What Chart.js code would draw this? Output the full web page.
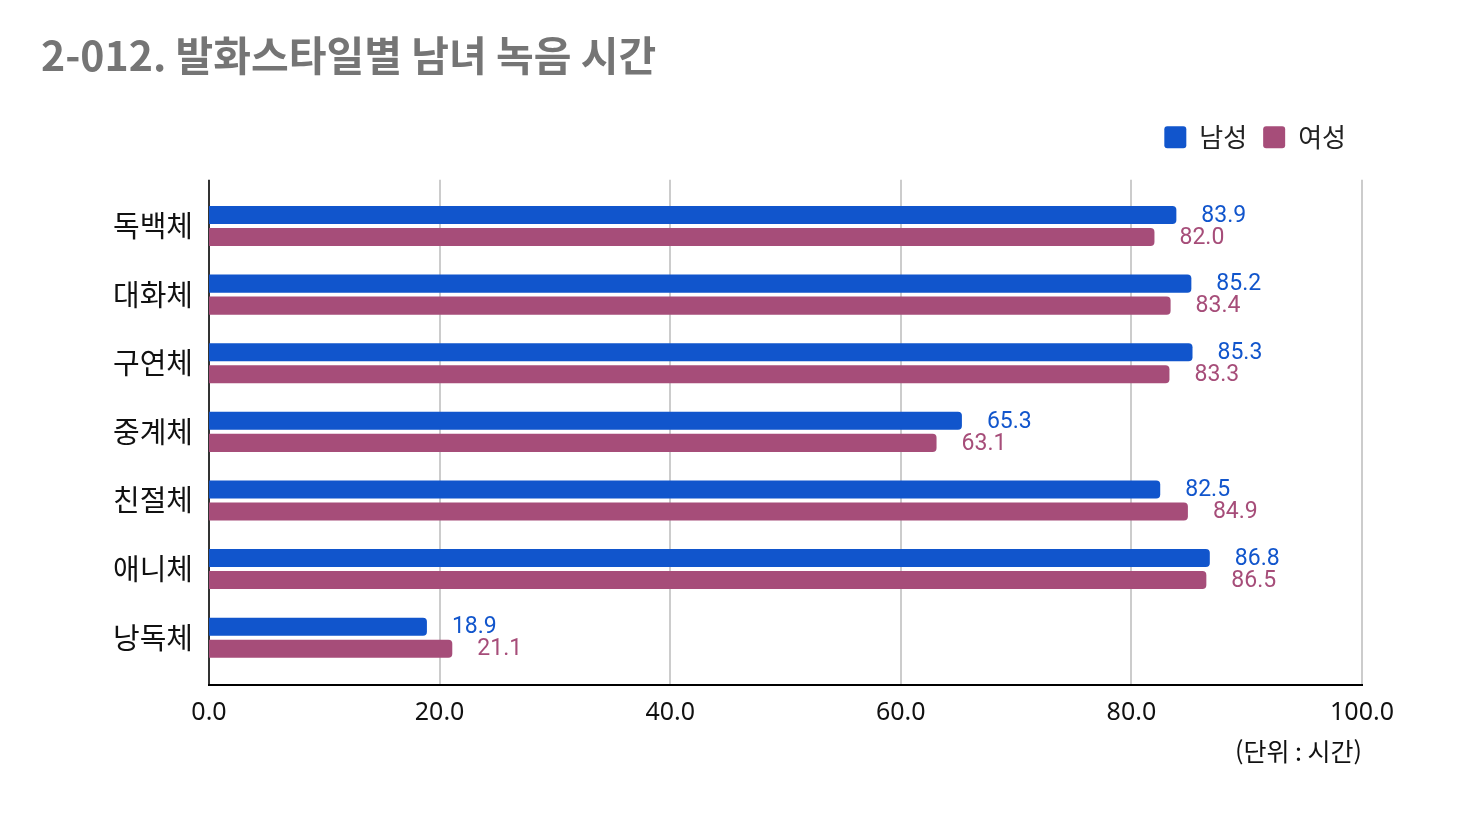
<!DOCTYPE html>
<html lang="ko">
<head>
<meta charset="utf-8">
<title>2-012. 발화스타일별 남녀 녹음 시간</title>
<script src="https://cdn.jsdelivr.net/npm/chart.js@4.4.1/dist/chart.umd.min.js"></script>
<style>
  html, body { margin: 0; padding: 0; background: #fff; }
  #chart { display: block; }
</style>
</head>
<body>
<canvas id="chart" width="1478" height="818"></canvas>
<script>
/*
   DATA
 */
const categories = ['독백체', '대화체', '구연체', '중계체', '친절체', '애니체', '낭독체'];
const maleHours   = [83.9, 85.2, 85.3, 65.3, 82.5, 86.8, 18.9];
const femaleHours = [82.0, 83.4, 83.3, 63.1, 84.9, 86.5, 21.1];
const seriesNames = ['남성', '여성'];
const xMin = 0, xMax = 100, xStep = 20;

const BLUE = '#1155cc';
const PINK = '#a64d79';
const KR = "'Noto Sans CJK KR', 'Noto Sans', sans-serif";

/*
   PLUGINS
 */
// grid lines + axis lines run a little past the plot area, like Sheets
const sheetGrid = {
    id: 'sheetGrid',
    beforeDatasetsDraw(chart) {
        const { ctx, chartArea: a, scales: { x } } = chart;
        const top = a.top - 12, bottom = a.bottom + 13;
        ctx.save();
        ctx.lineWidth = 2;
        ctx.strokeStyle = '#cccccc';
        x.ticks.forEach((t, i) => {
            if (i === 0) return;
            const px = Math.round(x.getPixelForTick(i));
            ctx.beginPath();
            ctx.moveTo(px, top);
            ctx.lineTo(px, bottom);
            ctx.stroke();
        });
        // left axis
        ctx.strokeStyle = '#333333';
        ctx.beginPath();
        ctx.moveTo(a.left, top);
        ctx.lineTo(a.left, bottom);
        ctx.stroke();
        // bottom axis
        ctx.strokeStyle = '#000000';
        ctx.beginPath();
        ctx.moveTo(a.left - 1, bottom);
        ctx.lineTo(a.right + 1, bottom);
        ctx.stroke();
        ctx.restore();
    }
};

// value labels at the end of each bar
const barValues = {
    id: 'barValues',
    afterDatasetsDraw(chart) {
        const { ctx } = chart;
        ctx.save();
        ctx.font = "23px Roboto, 'Noto Sans', sans-serif";
        ctx.textAlign = 'left';
        ctx.textBaseline = 'middle';
        chart.data.datasets.forEach((ds, di) => {
            const meta = chart.getDatasetMeta(di);
            ctx.fillStyle = ds.backgroundColor;
            meta.data.forEach((bar, i) => {
                ctx.fillText(ds.data[i].toFixed(1), bar.x + 25, bar.y + 1);
            });
        });
        ctx.restore();
    }
};

/*
   CHART
 */
const ctx = document.getElementById('chart').getContext('2d');
const chart = new Chart(ctx, {
    type: 'bar',
    data: {
        labels: categories,
        datasets: [
            { label: seriesNames[0], data: maleHours,   backgroundColor: BLUE },
            { label: seriesNames[1], data: femaleHours, backgroundColor: PINK }
        ]
    },
    options: {
        indexAxis: 'y',
        responsive: false,
        animation: false,
        categoryPercentage: 0.642,
        barPercentage: 0.82,
        datasets: { bar: { borderRadius: 4, borderSkipped: 'start' } },
        layout: { padding: { left: 41, right: 116, top: 31, bottom: 0 } },
        plugins: {
            title: {
                display: true,
                text: '2-012. 발화스타일별 남녀 녹음 시간',
                align: 'start',
                color: '#757575',
                font: { family: KR, size: 41, weight: 'bold', lineHeight: 1.2 },
                padding: { top: 0, bottom: 28 }
            },
            legend: {
                display: true,
                position: 'top',
                align: 'end',
                labels: {
                    color: '#222222',
                    font: { family: KR, size: 26 },
                    boxWidth: 22,
                    boxHeight: 22,
                    padding: 16,
                    useBorderRadius: true,
                    borderRadius: 3
                }
            },
            // empty spacer between legend and plot
            subtitle: {
                display: true,
                text: '',
                weight: 500,
                font: { size: 10, lineHeight: 1 },
                padding: { top: 0, bottom: 21.5 }
            },
            tooltip: { enabled: false }
        },
        scales: {
            x: {
                min: xMin,
                max: xMax,
                grid: { display: false, drawTicks: false },
                border: { display: false },
                ticks: {
                    stepSize: xStep,
                    color: '#111111',
                    padding: 26,
                    font: { family: "'Noto Sans', 'Open Sans', sans-serif", size: 25 },
                    callback: v => Number(v).toFixed(1)
                },
                title: {
                    display: true,
                    text: '(단위 : 시간)',
                    align: 'end',
                    color: '#111111',
                    font: { family: KR, size: 25, lineHeight: 1.2 },
                    padding: { top: 0, bottom: 52 }
                },
                afterFit(scale) { scale.height = 146; }
            },
            y: {
                grid: { display: false, drawTicks: false },
                border: { display: false },
                ticks: {
                    color: '#111111',
                    padding: 16,
                    font: { family: KR, size: 29 }
                },
                afterFit(scale) { scale.width = 168; }
            }
        }
    },
    plugins: [sheetGrid, barValues]
});
</script>
</body>
</html>
